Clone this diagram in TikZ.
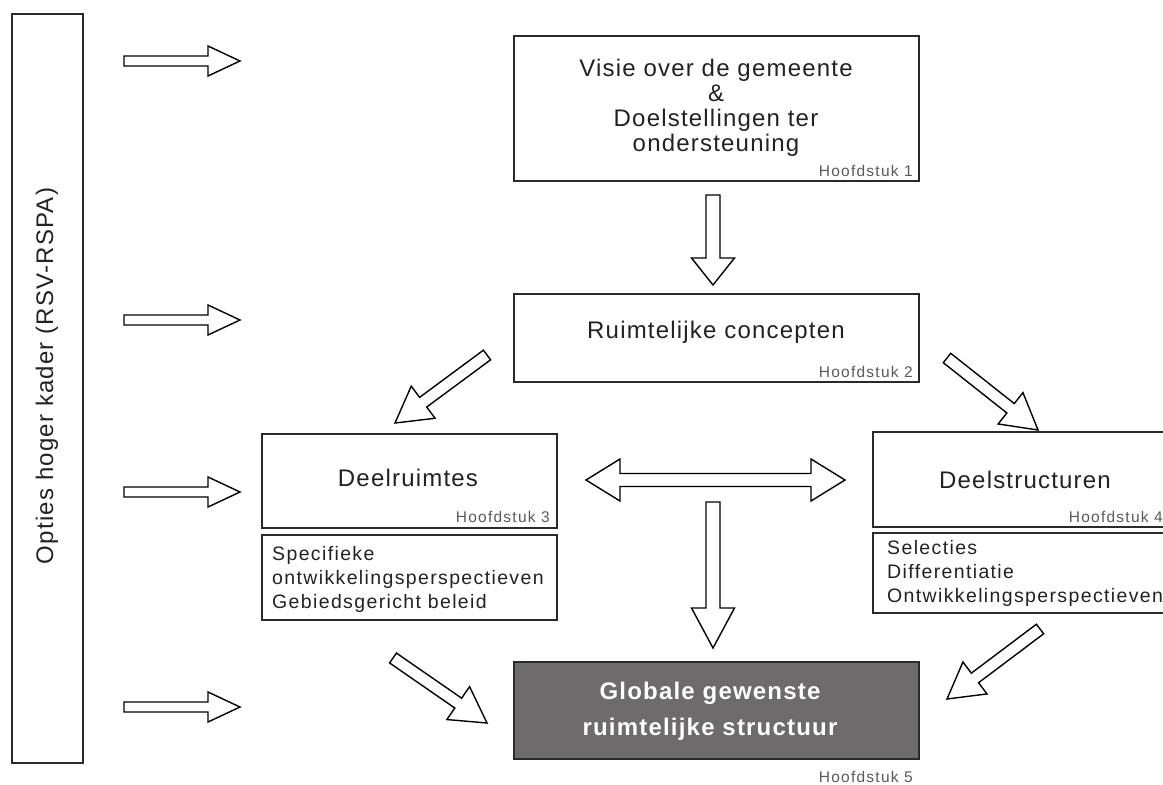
\documentclass[tikz,border=0pt]{standalone}
\usepackage{fontspec}
\setmainfont{Liberation Sans}
\newfontfamily\mainlsfont[LetterSpace=5]{Liberation Sans}
\newfontfamily\sublsfont[LetterSpace=7]{Liberation Sans}
\newfontfamily\chaplsfont[LetterSpace=8]{Liberation Sans}
\usetikzlibrary{calc}
\definecolor{linegray}{HTML}{2A2A2A}
\definecolor{txtgray}{HTML}{222222}
\definecolor{chapgray}{HTML}{5A5A5A}
\definecolor{boxfill}{HTML}{6D6B6C}
\tikzset{
  frame/.style={draw=linegray, line width=2.2pt, inner sep=0pt, outer sep=0pt},
  maintxt/.style={text=txtgray, font=\mainlsfont\fontsize{24}{25}\selectfont, inner sep=0pt, align=center},
  subtxt/.style={text=txtgray, font=\sublsfont\fontsize{19.5}{24}\selectfont, inner sep=0pt, align=left, anchor=west},
  chaptxt/.style={text=chapgray, font=\chaplsfont\fontsize{15.5}{17}\selectfont, inner sep=0pt, anchor=base east},
  barrow/.style={draw=black, line width=1.4pt, fill=white, line join=miter}
}
\newcommand{\blockarr}[5]{%
  \path ($(#2)!#5!(#1)$) coordinate (ha);
  \draw[barrow] ($(#1)!#3!90:(#2)$) -- ($(ha)!#3!90:(#2)$) -- ($(ha)!#4!90:(#2)$) -- (#2)
    -- ($(ha)!#4!-90:(#2)$) -- ($(ha)!#3!-90:(#2)$) -- ($(#1)!#3!-90:(#2)$) -- cycle;}
\newcommand{\dblarr}[5]{%
  \path ($(#1)!#5!(#2)$) coordinate (hb) ($(#2)!#5!(#1)$) coordinate (hc);
  \draw[barrow] (#1) -- ($(hb)!#4!90:(#2)$) -- ($(hb)!#3!90:(#2)$) -- ($(hc)!#3!90:(#2)$)
    -- ($(hc)!#4!90:(#2)$) -- (#2) -- ($(hc)!#4!-90:(#2)$) -- ($(hc)!#3!-90:(#2)$)
    -- ($(hb)!#3!-90:(#2)$) -- ($(hb)!#4!-90:(#2)$) -- cycle;}
\begin{document}
\begin{tikzpicture}[x=1pt,y=-1pt]
\clip (0,0) rectangle (1163,785);
\fill[white] (0,0) rectangle (1163,785);

% left frame
\node[frame, minimum width=71pt, minimum height=749pt] (lk) at (47.5,388.5) {};
\node[maintxt, rotate=90] (lkt) at (47,376) {Opties hoger kader (RSV-RSPA)};

% boxes
\node[frame, minimum width=405pt, minimum height=145pt] (b1) at (716.5,108.5) {};
\node[maintxt] (t1) at (716,108) {Visie over de gemeente\\\&\\Doelstellingen ter\\ondersteuning};
\node[chaptxt] (h1) at ($(b1.south east)+(-6,-5)$) {Hoofdstuk 1};

\node[frame, minimum width=405pt, minimum height=88pt] (b2) at (716.5,338) {};
\node[maintxt] (t2) at (716,332) {Ruimtelijke concepten};
\node[chaptxt] (h2) at ($(b2.south east)+(-6,-5)$) {Hoofdstuk 2};

\node[frame, minimum width=295pt, minimum height=94pt] (b3) at (409.5,481) {};
\node[maintxt] (t3) at (408,478) {Deelruimtes};
\node[chaptxt] (h3) at ($(b3.south east)+(-7,-6)$) {Hoofdstuk 3};
\node[frame, minimum width=295pt, minimum height=85pt] (s3) at (409.5,577.5) {};
\node[subtxt] (st3) at (272,579) {Specifieke\\ontwikkelingsperspectieven\\Gebiedsgericht beleid};

\node[frame, minimum width=295pt, minimum height=95pt] (b4) at (1020.5,479.5) {};
\node[maintxt] (t4) at (1025,480) {Deelstructuren};
\node[chaptxt] (h4) at ($(b4.south east)+(-5,-5)$) {Hoofdstuk 4};
\node[frame, minimum width=295pt, minimum height=80pt] (s4) at (1020.5,573) {};
\node[subtxt] (st4) at (887,573) {Selecties\\Differentiatie\\Ontwikkelingsperspectieven};

\node[frame, fill=boxfill, minimum width=405pt, minimum height=97pt] (b5) at (716.5,710.5) {};
\node[maintxt, text=white, font=\mainlsfont\bfseries\fontsize{24}{36}\selectfont] (t5) at (710,711) {Globale gewenste\\ruimtelijke structuur};
\node[chaptxt] (h5) at (913,782) {Hoofdstuk 5};

% arrow end points
\coordinate (la1) at (124,61);  \coordinate (lb1) at (240,61);
\coordinate (la2) at (124,320); \coordinate (lb2) at (240,320);
\coordinate (la3) at (124,492); \coordinate (lb3) at (240,492);
\coordinate (la4) at (124,707); \coordinate (lb4) at (240,707);
\coordinate (v1a) at (713,195); \coordinate (v1b) at (713,285);
\coordinate (v2a) at (713,502); \coordinate (v2b) at (713,648);
\coordinate (da) at (586,480);  \coordinate (db) at (845,480);
\coordinate (d1a) at (487,355); \coordinate (d1b) at (395,423);
\coordinate (d2a) at (947,358); \coordinate (d2b) at (1038,430);
\coordinate (d3a) at (393,658); \coordinate (d3b) at (487,723);
\coordinate (d4a) at (1040,629); \coordinate (d4b) at (947,699);

\blockarr{la1}{lb1}{5pt}{15pt}{32pt}
\blockarr{la2}{lb2}{5pt}{15pt}{32pt}
\blockarr{la3}{lb3}{5pt}{15pt}{32pt}
\blockarr{la4}{lb4}{5pt}{15pt}{32pt}
\blockarr{v1a}{v1b}{7pt}{21.5pt}{27pt}
\blockarr{v2a}{v2b}{7pt}{21.5pt}{40pt}
\dblarr{da}{db}{6.5pt}{21pt}{34pt}
\blockarr{d1a}{d1b}{6pt}{20pt}{35pt}
\blockarr{d2a}{d2b}{6pt}{20pt}{35pt}
\blockarr{d3a}{d3b}{6pt}{20pt}{35pt}
\blockarr{d4a}{d4b}{6pt}{20pt}{35pt}
\end{tikzpicture}
\end{document}
